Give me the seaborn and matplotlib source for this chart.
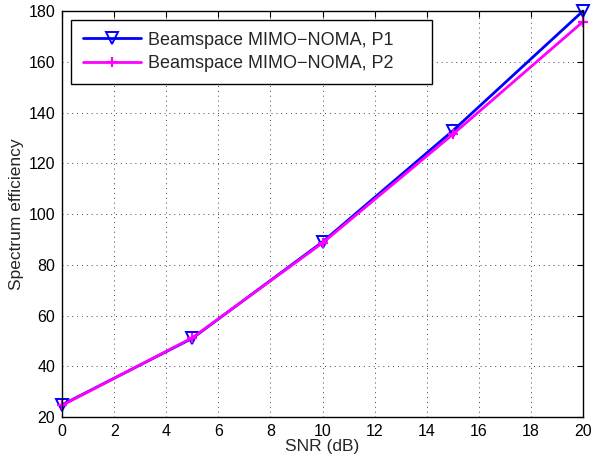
import pandas as pd
import seaborn as sns
import matplotlib
matplotlib.use("Agg")
import matplotlib.pyplot as plt

# data
snr = [0, 5, 10, 15, 20]
se_p1 = [24.8, 51.0, 89.0, 132.8, 180.0]
se_p2 = [24.6, 51.2, 88.6, 131.4, 175.8]
labels = ["Beamspace MIMO\u2212NOMA, P1", "Beamspace MIMO\u2212NOMA, P2"]

df = pd.DataFrame({
    "snr": snr * 2,
    "se": se_p1 + se_p2,
    "series": [labels[0]] * len(snr) + [labels[1]] * len(snr),
})

sns.set_style("white")
plt.rcParams["font.family"] = ["Liberation Sans", "DejaVu Sans"]

fig = plt.figure(figsize=(5.91, 4.59), dpi=100)
ax = fig.add_axes([0.105, 0.0915, 0.8815, 0.8845])

sns.lineplot(data=df[df.series == labels[0]], x="snr", y="se", ax=ax,
             color="#0000ff", linewidth=2, marker="v", markersize=8,
             markerfacecolor="none", markeredgecolor="#0000ff",
             markeredgewidth=1.4, clip_on=False, legend=False)
sns.lineplot(data=df[df.series == labels[1]], x="snr", y="se", ax=ax,
             color="#ff00ff", linewidth=2, marker="+", markersize=7,
             markeredgecolor="#ff00ff", markeredgewidth=1.6,
             clip_on=False, legend=False)

ax.set_xlim(0, 20)
ax.set_ylim(20, 180)
ax.set_xticks(range(0, 21, 2))
ax.set_yticks(range(20, 181, 20))
ax.grid(True, linestyle=(0, (1, 4)), color="#444444", linewidth=0.7)
ax.tick_params(direction="in", top=True, right=True, length=4, width=0.8,
               labelsize=11.5, colors="black", pad=5)
for s in ax.spines.values():
    s.set_color("black")
    s.set_linewidth(1.0)

ax.set_xlabel("SNR (dB)", fontsize=12.5, labelpad=0)
ax.set_ylabel("Spectrum efficiency", fontsize=12.5, labelpad=3)

leg = ax.legend(ax.get_lines()[:2], labels, loc="upper left",
                bbox_to_anchor=(0.0173, 0.978, 0.693, 0.0), mode="expand",
                fontsize=13, numpoints=1, frameon=True, fancybox=False,
                handlelength=3.2, handletextpad=0.4, borderpad=0.65,
                labelspacing=0.35, borderaxespad=0)
leg.get_frame().set_edgecolor("black")
leg.get_frame().set_linewidth(1.0)
leg.get_frame().set_alpha(1)

fig.savefig("out.png", dpi=100)
